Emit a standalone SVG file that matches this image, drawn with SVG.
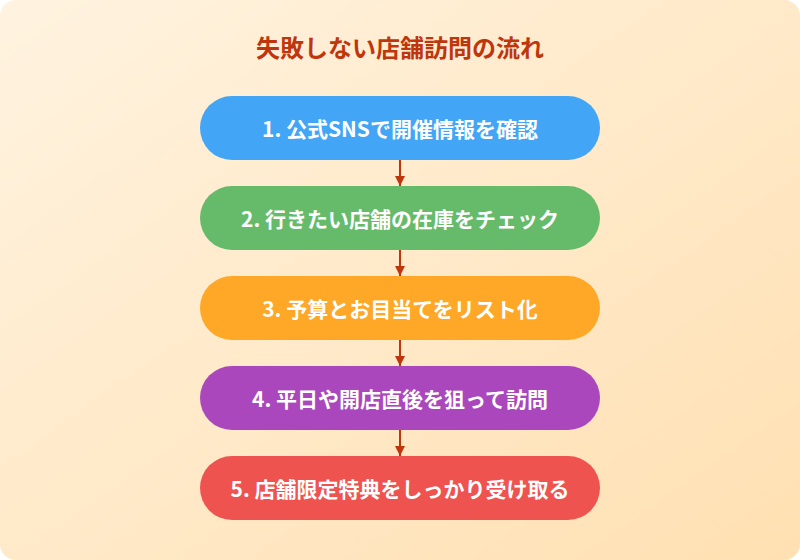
<svg xmlns="http://www.w3.org/2000/svg" width="800" height="560" viewBox="0 0 800 560">
<defs>
<linearGradient id="bg" x1="0" y1="0" x2="1" y2="1"><stop offset="0" stop-color="#fff3e0"/><stop offset="1" stop-color="#ffe0b2"/></linearGradient>
<marker id="ah" markerWidth="10" markerHeight="10" refX="10" refY="5" orient="auto" markerUnits="userSpaceOnUse"><path d="M0,0 L10,5 L0,10 Z" fill="#bf360c"/></marker>
<style>
.t{font-family:"Noto Sans CJK JP","Noto Sans",sans-serif;font-weight:bold;fill:#fff;font-size:21px;text-anchor:middle;dominant-baseline:central}
.c{stroke:#bf360c;stroke-width:2;fill:none}
</style>
</defs>
<rect x="0" y="0" width="800" height="560" rx="16" fill="url(#bg)"/>
<text x="400" y="46" font-family="Noto Sans CJK JP,sans-serif" font-weight="bold" font-size="24" fill="#bf360c" text-anchor="middle" dominant-baseline="central">失敗しない店舗訪問の流れ</text>
<g id="connectors">
<line class="c" x1="400" y1="160" x2="400" y2="186" marker-end="url(#ah)"/>
<line class="c" x1="400" y1="250" x2="400" y2="276" marker-end="url(#ah)"/>
<line class="c" x1="400" y1="340" x2="400" y2="366" marker-end="url(#ah)"/>
<line class="c" x1="400" y1="430" x2="400" y2="456" marker-end="url(#ah)"/>
</g>
<g id="n1"><rect x="200" y="96" width="400" height="64" rx="32" fill="#42a5f5"/><text class="t" x="400" y="128">1. 公式SNSで開催情報を確認</text></g>
<g id="n2"><rect x="200" y="186" width="400" height="64" rx="32" fill="#66bb6a"/><text class="t" x="400" y="218">2. 行きたい店舗の在庫をチェック</text></g>
<g id="n3"><rect x="200" y="276" width="400" height="64" rx="32" fill="#ffa726"/><text class="t" x="400" y="308">3. 予算とお目当てをリスト化</text></g>
<g id="n4"><rect x="200" y="366" width="400" height="64" rx="32" fill="#ab47bc"/><text class="t" x="400" y="398">4. 平日や開店直後を狙って訪問</text></g>
<g id="n5"><rect x="200" y="456" width="400" height="64" rx="32" fill="#ef5350"/><text class="t" x="400" y="488">5. 店舗限定特典をしっかり受け取る</text></g>
</svg>
